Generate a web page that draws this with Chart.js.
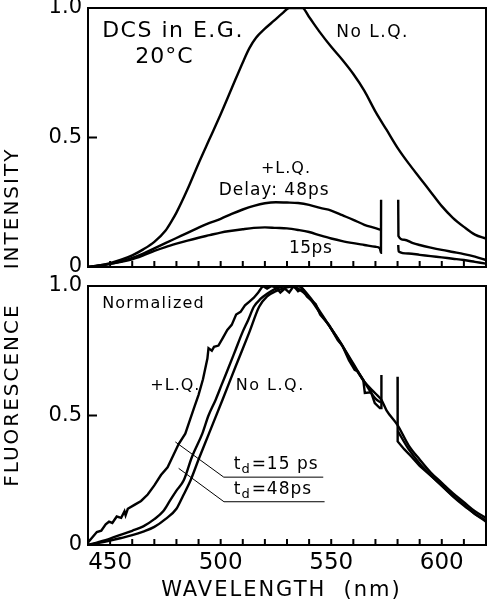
<!DOCTYPE html>
<html><head><meta charset="utf-8">
<script src="https://cdn.jsdelivr.net/npm/chart.js@4"></script>
<style>
html,body{margin:0;padding:0;background:#fff;}
#wrap{position:relative;width:489px;height:600px;}
canvas{position:absolute;left:0;top:0;}
</style></head><body>
<div id="wrap"><canvas id="cTop" width="489" height="600"></canvas><canvas id="cBot" width="489" height="600"></canvas></div>
<script>
// ---------- DATA (wavelength in nm, intensity) ----------
// Top panel: absolute intensity
const topNoLQ_wl = [440,445,450,455,460,465,470,475,478,480,485,490,495,500,505,510,513,516,520,524,528,531,537,540,545,550,555,560,565,570,575,580,585,590,595,600,605,610,615,620];
const topNoLQ_val = [0,0.006,0.015,0.028,0.045,0.068,0.097,0.14,0.18,0.21,0.30,0.40,0.495,0.59,0.69,0.79,0.845,0.885,0.92,0.95,0.98,1.0,1.0,0.965,0.905,0.85,0.80,0.745,0.68,0.60,0.53,0.46,0.40,0.345,0.29,0.235,0.19,0.155,0.125,0.11];

const top48_wl = [440,445,450,455,460,465,470,475,480,485,490,495,500,505,510,515,520,525,530,535,540,545,550,555,560,565,570,572.5,576,580.3,580.4,583,587,590,595,600,605,610,615,620];
const top48_val = [0,0.005,0.012,0.022,0.035,0.052,0.072,0.092,0.112,0.132,0.152,0.170,0.186,0.205,0.222,0.236,0.246,0.250,0.249,0.247,0.240,0.228,0.218,0.200,0.182,0.163,0.150,0.143,null,0.26,0.12,0.105,0.092,0.085,0.075,0.066,0.058,0.050,0.040,0.027];

const top15_wl = [440,445,450,455,460,465,470,475,480,485,490,495,500,505,510,515,520,525,530,535,540,545,550,555,560,565,570,572,572.5,572.55,576,580.3,580.5,585,590,595,600,605,610,615,620];
const top15_val = [0,0.006,0.012,0.020,0.030,0.045,0.062,0.077,0.090,0.102,0.113,0.123,0.133,0.140,0.146,0.151,0.153,0.151,0.149,0.143,0.135,0.122,0.110,0.100,0.092,0.085,0.078,0.072,0.055,0.26,null,0.085,0.060,0.052,0.047,0.042,0.037,0.032,0.027,0.020,0.013];

// Bottom panel: normalized
const botNoLQ_wl = [440,445,450,455,460,465,470,475,480,483,486.4,490,494.7,500.8,506.8,512.9,517.4,521,525,530,535,540,545,550,555,559,565,570,572.7,575,580,585,590,595,600,605,610,615,620];
const botNoLQ_val = [0,0.008,0.017,0.027,0.038,0.052,0.070,0.100,0.140,0.190,0.250,0.330,0.430,0.560,0.690,0.820,0.920,0.960,0.980,0.995,1.0,0.960,0.900,0.835,0.770,0.710,0.630,0.585,0.560,0.520,0.463,0.385,0.330,0.280,0.240,0.200,0.165,0.130,0.105];

const bot48_wl = [440,445,450,455,460,465,470,474,477,480,483.3,487,491.7,494.5,497.7,500.5,503.8,506.8,509.8,512.5,515,518,521,525,530,535,540,545,550,555,560,565,570,572.5,576,580.1,585,590,595,600,605,610,615,620];
const bot48_val = [0,0.012,0.025,0.040,0.055,0.072,0.100,0.130,0.170,0.210,0.250,0.340,0.430,0.500,0.560,0.620,0.690,0.755,0.820,0.870,0.920,0.950,0.970,0.990,1.0,0.990,0.955,0.895,0.835,0.770,0.700,0.630,0.565,0.550,null,0.440,0.370,0.315,0.270,0.228,0.188,0.152,0.120,0.090];

const bot15_wl = [440,442,444,446,448,449.5,451,453,455,456.5,457,458,461,464,467,470,473,476,478.8,481,484,486,488,490,492,494,494.5,496,497,499,501,503,505,507,509,511,513,515,517,519,521,523,525,527,529,531,533,535,537,539,541,543,545,547,549,551,553,555,558,560.6,562,564.5,565.2,568,569.7,572,572.6,572.7,576,580,580.05,583,586.4,590,595.5,600,605,610,615,620];
const bot15_val = [0.01,0.03,0.05,0.055,0.08,0.09,0.085,0.11,0.105,0.13,0.115,0.14,0.155,0.17,0.195,0.23,0.27,0.30,0.35,0.39,0.43,0.48,0.53,0.58,0.64,0.72,0.76,0.75,0.765,0.77,0.80,0.83,0.85,0.89,0.90,0.925,0.94,0.955,0.975,1.0,0.99,1.0,0.995,0.975,0.99,0.975,1.0,0.98,0.99,0.96,0.945,0.93,0.89,0.87,0.85,0.82,0.79,0.77,0.714,0.676,0.67,0.637,0.587,0.59,0.548,0.529,0.529,0.656,null,0.65,0.40,0.37,0.34,0.305,0.264,0.23,0.19,0.155,0.12,0.095];

// leader lines for the t_d labels
const lead15_wl = [479.5,501.4,546.4];
const lead15_val = [0.398,0.262,0.262];
const lead48_wl = [481,501.5,547];
const lead48_val = [0.296,0.167,0.167];

const xTickLabels = [450,500,550,600];
const yTickLabels = ['0','0.5','1.0'];
const xAxisTitle = 'WAVELENGTH  (nm)';

// ---------- CHART ----------
const FONT = '"DejaVu Sans", sans-serif';
const pts = (xs, ys) => xs.map((x,i)=>({x:x, y:ys[i]}));
const curve = (xs, ys, w, smooth) => ({data: pts(xs,ys), borderColor:'#000', borderWidth: w||2.4, pointRadius:0,
  tension:0, cubicInterpolationMode: smooth ? 'monotone' : 'default', fill:false, spanGaps:false});

function makeFrame(texts){
  return {
    id:'frame',
    afterDraw(chart){
      const ctx = chart.ctx, a = chart.chartArea, xs = chart.scales.x, ys = chart.scales.y;
      ctx.save();
      ctx.strokeStyle='#000'; ctx.lineWidth=2;
      ctx.strokeRect(a.left, a.top, a.right-a.left, a.bottom-a.top);
      ctx.beginPath();
      for(let v=450; v<=610; v+=10){
        const p = xs.getPixelForValue(v);
        ctx.moveTo(p, a.bottom); ctx.lineTo(p, a.bottom-6);
      }
      const yp = ys.getPixelForValue(0.5);
      ctx.moveTo(a.left, yp); ctx.lineTo(a.left+9, yp);
      ctx.stroke();
      ctx.fillStyle='#000';
      texts.forEach(t=>{
        let px = xs.getPixelForValue(t.x), py = ys.getPixelForValue(t.y);
        ctx.letterSpacing = (t.ls||0)+'px';
        ctx.textAlign='left'; ctx.textBaseline='alphabetic';
        if (t.sub){
          ctx.font = t.size+'px '+FONT; ctx.fillText('t', px, py); px += ctx.measureText('t').width;
          ctx.font = Math.round(t.size*0.75)+'px '+FONT; ctx.fillText('d', px, py+4); px += ctx.measureText('d').width+1;
          ctx.font = t.size+'px '+FONT; ctx.fillText(t.s, px, py);
        } else {
          ctx.font = t.size+'px '+FONT; ctx.fillText(t.s, px, py);
        }
      });
      if (texts.title){
        const tt = texts.title;
        ctx.font = tt.size+'px '+FONT; ctx.letterSpacing = tt.ls+'px';
        ctx.textAlign='center'; ctx.textBaseline='middle';
        ctx.fillText(tt.s, xs.getPixelForValue(tt.x), a.bottom + tt.dy);
      }
      if (texts.vlabel){
        const v = texts.vlabel;
        ctx.font = v.size+'px '+FONT; ctx.letterSpacing = v.ls+'px';
        ctx.translate(a.left-75, ys.getPixelForValue(v.y));
        ctx.rotate(-Math.PI/2);
        ctx.textAlign='center'; ctx.textBaseline='middle';
        ctx.fillText(v.s, 0, 0);
      }
      ctx.restore();
    }
  };
}

const yScale = {
  min:0, max:1,
  grid:{display:false, drawTicks:false}, border:{display:false},
  ticks:{stepSize:0.5, color:'#000', padding:6, font:{family:FONT, size:21},
    callback:(v)=> v===0?yTickLabels[0]:(v===0.5?yTickLabels[1]:(v===1?yTickLabels[2]:''))},
  afterFit(s){ s.width = 88; s.paddingTop = 0; s.paddingBottom = 0; }
};

const topTexts = [
  {s:'DCS in E.G.', x:446.4, y:0.888, size:22, ls:1.5},
  {s:'20°C', x:461.4, y:0.788, size:22, ls:1},
  {s:'No L.Q.', x:552.3, y:0.888, size:17, ls:1.5},
  {s:'+L.Q.', x:518.2, y:0.363, size:16, ls:1},
  {s:'Delay: 48ps', x:499.1, y:0.278, size:17, ls:1},
  {s:'15ps', x:530.9, y:0.054, size:17, ls:0.5}
];
topTexts.vlabel = {s:'INTENSITY', y:0.226, size:20, ls:2};

const botTexts = [
  {s:'Normalized', x:446.4, y:0.915, size:16, ls:1.2},
  {s:'+L.Q.', x:468.2, y:0.598, size:16, ls:1},
  {s:'No L.Q.', x:506.8, y:0.598, size:16, ls:1.5},
  {s:'=15 ps', x:505.9, y:0.293, size:17, ls:1, sub:true},
  {s:'=48ps', x:505.9, y:0.197, size:17, ls:1, sub:true}
];
botTexts.vlabel = {s:'FLUORESCENCE', y:0.579, size:20, ls:2};
botTexts.title = {s:xAxisTitle, x:527.5, dy:46, size:21, ls:2};

new Chart(document.getElementById('cTop'), {
  type:'line',
  data:{datasets:[curve(topNoLQ_wl, topNoLQ_val, 2.4, true), curve(top48_wl, top48_val, 2.4, true), curve(top15_wl, top15_val, 2.4, true)]},
  options:{
    responsive:false, animation:false, events:[],
    layout:{padding:{left:0, top:8, right:3, bottom:333}},
    plugins:{legend:{display:false}, tooltip:{enabled:false}},
    scales:{
      x:{type:'linear', min:440, max:620, grid:{display:false}, border:{display:false},
         ticks:{display:false}, afterFit(s){ s.height = 0; s.paddingLeft=0; s.paddingRight=0; }},
      y:yScale
    }
  },
  plugins:[makeFrame(topTexts)]
});

new Chart(document.getElementById('cBot'), {
  type:'line',
  data:{datasets:[curve(botNoLQ_wl, botNoLQ_val, 2.4, true), curve(bot48_wl, bot48_val, 2.4, true), curve(bot15_wl, bot15_val, 2.4, false),
                  curve(lead15_wl, lead15_val, 1), curve(lead48_wl, lead48_val, 1)]},
  options:{
    responsive:false, animation:false, events:[],
    layout:{padding:{left:0, top:286, right:3, bottom:0}},
    plugins:{legend:{display:false}, tooltip:{enabled:false}},
    scales:{
      x:{type:'linear', min:440, max:620, grid:{display:false, drawTicks:false}, border:{display:false},
         ticks:{stepSize:10, autoSkip:false, maxRotation:0, color:'#000', padding:4, font:{family:FONT, size:23},
                callback:(v)=> xTickLabels.includes(v) ? String(v) : ''},
         afterFit(s){ s.height = 55; s.paddingLeft=0; s.paddingRight=0; }},
      y:yScale
    }
  },
  plugins:[makeFrame(botTexts)]
});
</script>
</body></html>
